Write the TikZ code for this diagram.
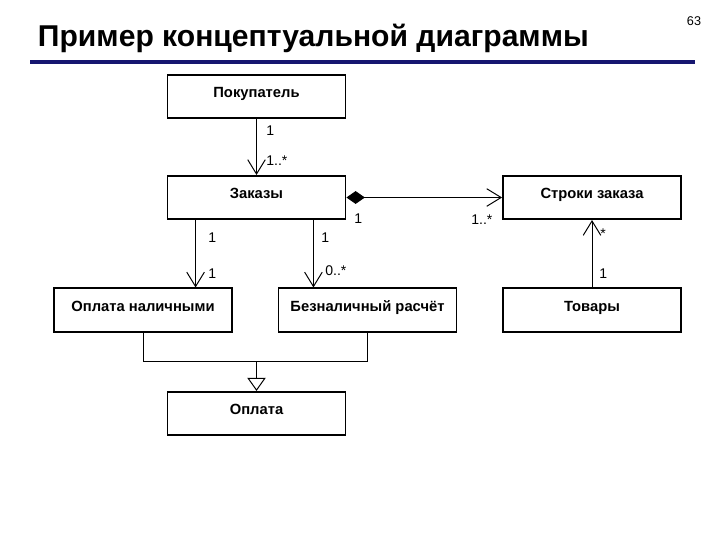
\documentclass[tikz,border=0pt]{standalone}
\usepackage{fontspec}
\setmainfont{Liberation Sans}
\usetikzlibrary{arrows.meta, calc}
\definecolor{titleblue}{RGB}{22,22,112}

\begin{document}
\begin{tikzpicture}[x=0.025cm, y=-0.025cm,
        cls/.style={draw, line width=1.3pt, minimum width=4.45cm, minimum height=1.08cm, inner sep=0pt,
          font=\fontsize{10.5}{12}\selectfont\bfseries, text height=1.5ex, text depth=1.2ex},
        mult/.style={anchor=base west, inner sep=0pt, font=\fontsize{10}{12}\selectfont},
        assoc/.style={draw, line width=0.7pt, -{Straight Barb[length=3.6mm, width=4.4mm]}},
        comp/.style={draw, line width=0.7pt, {Diamond[length=4.6mm, width=3.2mm]}-{Straight Barb[length=3.6mm, width=4.4mm]}},
        gen/.style={draw, line width=0.7pt, -{Triangle[open, length=3.3mm, width=4.6mm]}}
      ]
        \fill[white] (0,0) rectangle (720,540);
        \useasboundingbox (0,0) rectangle (720,540);

        \node[anchor=base west, font=\fontsize{21.4}{24}\selectfont\bfseries] (title) at (33,46) {Пример концептуальной диаграммы};
        \node[anchor=base east, font=\fontsize{9}{10}\selectfont] (pagenum) at (706,25) {63};
        \draw[titleblue, line width=2.2pt] (30,62) -- (695,62);

        \node[cls] (buyer) at (256.5,96.5) {Покупатель};
        \node[cls] (orders) at (256.5,197.5) {Заказы};
        \node[cls] (lines) at (592,197.5) {Строки заказа};
        \node[cls] (cash) at (143,310) {Оплата наличными};
        \node[cls] (cashless) at (367.5,310) {Безналичный расчёт};
        \node[cls] (goods) at (592,310) {Товары};
        \node[cls] (payment) at (256.5,413.5) {Оплата};

        \coordinate (o1) at ($(orders.south west)+(29,0)$);
        \coordinate (o2) at ($(orders.south east)+(-33,0)$);
        \coordinate (j) at ($(payment.north)+(0,-29)$);

        \draw[assoc] (buyer) -- (orders);
        \draw[comp] (orders.east) -- (lines.west);
        \draw[assoc] (o1) -- (o1 |- cash.north);
        \draw[assoc] (o2) -- (o2 |- cashless.north);
        \draw[assoc] (goods) -- (lines);
        \draw[line width=0.7pt] (cash.south) |- (cashless.south |- j) -- (cashless.south);
        \draw[gen] (j) -- (payment.north);

        \node[mult] (m1) at (266,135) {1};
        \node[mult] (m2) at (266,165) {1..*};
        \node[mult] (m3) at (354,223) {1};
        \node[mult] (m4) at (471,224) {1..*};
        \node[mult] (m5) at (208,242) {1};
        \node[mult] (m6) at (208,278) {1};
        \node[mult] (m7) at (321,242) {1};
        \node[mult] (m8) at (325,275) {0..*};
        \node[mult] (m9) at (600,238) {*};
        \node[mult] (m10) at (599,278) {1};
      \end{tikzpicture}
\end{document}
